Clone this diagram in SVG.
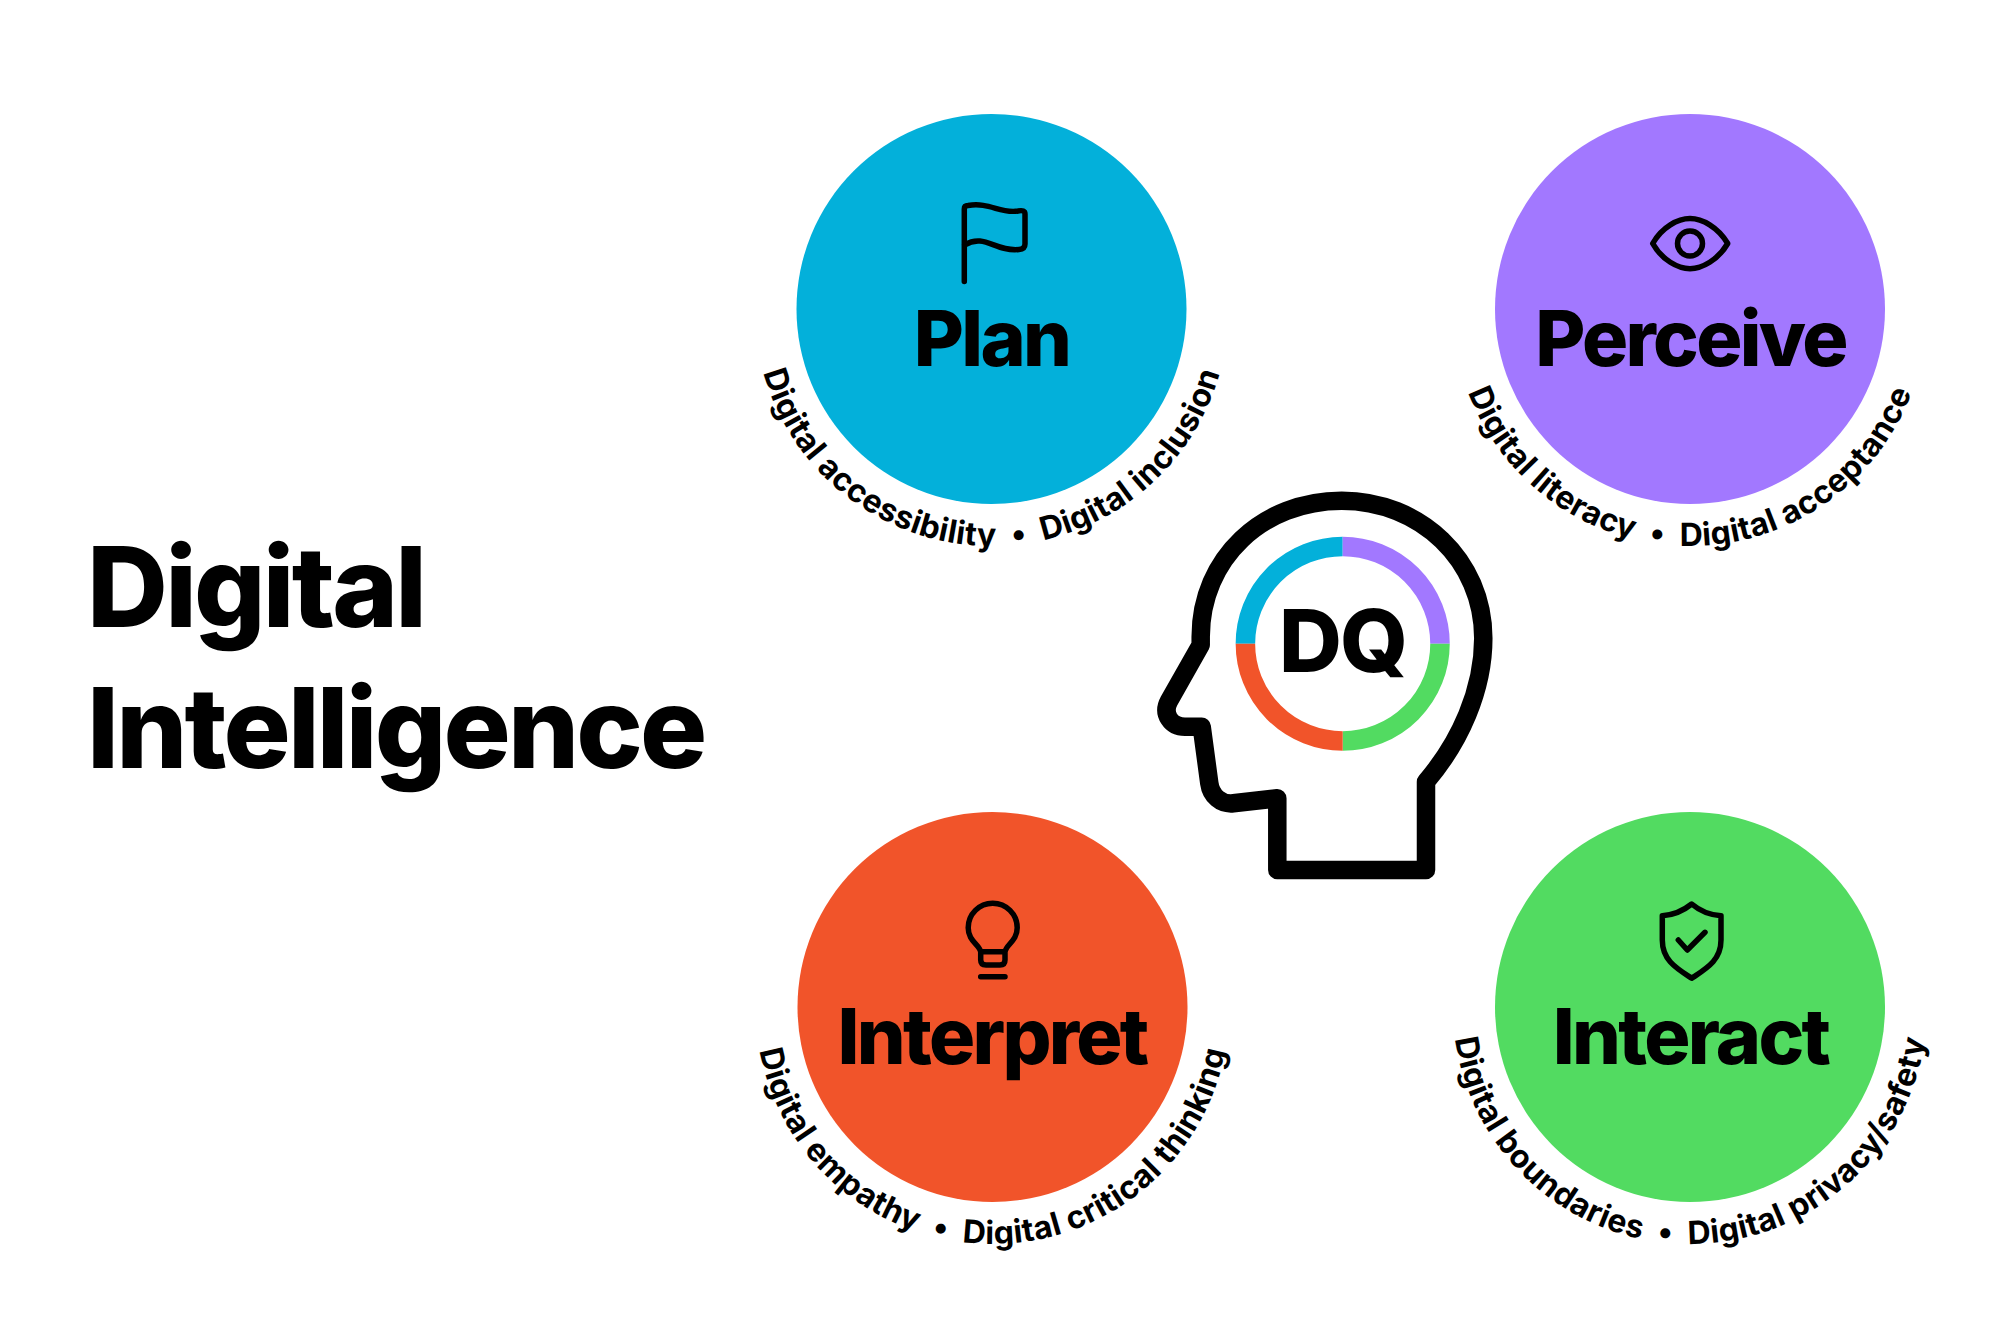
<svg xmlns="http://www.w3.org/2000/svg" width="2000" height="1317" viewBox="0 0 2000 1317">
<style>
text{font-family:Inter,"Liberation Sans",sans-serif;font-weight:800;fill:#000}
.t{font-size:77px;letter-spacing:-2.7px;text-anchor:middle}
.h{font-size:112px;letter-spacing:-2.8px}
.c{font-size:32px;font-weight:700;letter-spacing:0.35px;text-anchor:middle;white-space:pre}
.i{fill:none;stroke:#000;stroke-width:5.5;stroke-linecap:round;stroke-linejoin:round}
.r{fill:none;stroke-width:19.5}
</style>
<defs>
<path id="a1" d="M754.500 309A237 237 0 0 0 1228.500 309"/>
<path id="a2" d="M1453 309A237 237 0 0 0 1927 309"/>
<path id="a3" d="M755.500 1007A237 237 0 0 0 1229.500 1007"/>
<path id="a4" d="M1453 1007A237 237 0 0 0 1927 1007"/>
</defs>
<rect width="2000" height="1317" fill="#fff"/>
<g id="title"><text class="h" x="87" y="627">Digital</text><text class="h" x="87" y="768">Intelligence</text></g>
<g id="plan"><circle cx="991.5" cy="309" r="195" fill="#03b0da"/>
<path class="i" d="M964.300 281.500V209Q964.300 205.500 968 205.500C990 202 1000 214 1018 211Q1025 209.500 1025 214V244Q1025 249 1019 249.500C995 252 985 233 964.300 245"/>
<text class="t" x="991.500" y="366">Plan</text>
<text class="c"><textPath href="#a1" startOffset="50%">Digital accessibility  •  Digital inclusion</textPath></text></g>
<g id="perceive"><circle cx="1690" cy="309" r="195" fill="#a278ff"/>
<path class="i" d="M1652.700 243.500C1662 227 1678 218.500 1690 218.500S1718 227 1727.700 243.500C1718 260 1702 268.700 1690 268.700S1662 260 1652.700 243.500Z"/><circle class="i" cx="1690" cy="243.500" r="12.500"/>
<text class="t" x="1690.500" y="366">Perceive</text>
<text class="c"><textPath href="#a2" startOffset="50%">Digital literacy  •  Digital acceptance</textPath></text></g>
<g id="interpret"><circle cx="992.500" cy="1007" r="195" fill="#f1542a"/>
<path class="i" d="M980.700 951.700C979 944 968.200 941 968.200 927.700A24.500 24.500 0 0 1 1017.200 927.700C1017.200 941 1006.500 944 1005 951.700ZM980.700 951.700V960Q980.700 965 986 965H1000Q1005 965 1005 960V951.700M980.700 976.700H1005"/>
<text class="t" x="992" y="1063.500">Interpret</text>
<text class="c"><textPath href="#a3" startOffset="50%">Digital empathy  •  Digital critical thinking</textPath></text></g>
<g id="interact"><circle cx="1690" cy="1007" r="195" fill="#52db61"/>
<path class="i" d="M1691.700 904C1683 911 1674 915 1662.300 915.700V940C1662.300 960 1676 968 1691.700 978.300C1707 968 1721 960 1721 940V915.700C1709 915 1700 911 1691.700 904ZM1678.300 940L1687.300 950L1705 932.300"/>
<text class="t" x="1690.500" y="1063.500">Interact</text>
<text class="c"><textPath href="#a4" startOffset="50%">Digital boundaries  •  Digital privacy/safety</textPath></text></g>
<g id="dq">
<path fill="none" stroke="#000" stroke-width="18.500" stroke-linejoin="round" d="M1277.300 870V798.300L1233.300 803.300C1221 804.500 1211 796 1209.300 783.300L1201.700 726.700H1185C1171 726.700 1162 714 1169 701L1200.700 645V636.700C1200.700 558 1263 500.700 1341.700 500.700C1420 500.700 1483.300 560 1483.300 638.300C1483.300 690 1460 742 1426 781.700V870Z"/>
<path class="r" stroke="#03b0da" d="M1245.400 643.700A97.300 97.300 0 0 1 1342.700 546.400"/>
<path class="r" stroke="#a278ff" d="M1342.700 546.400A97.300 97.300 0 0 1 1440 643.700"/>
<path class="r" stroke="#52db61" d="M1440 643.700A97.300 97.300 0 0 1 1342.700 741"/>
<path class="r" stroke="#f1542a" d="M1342.700 741A97.300 97.300 0 0 1 1245.400 643.700"/>
<text x="1342.500" y="671.700" font-size="87" letter-spacing="-2" text-anchor="middle">DQ</text>
</g>
</svg>
